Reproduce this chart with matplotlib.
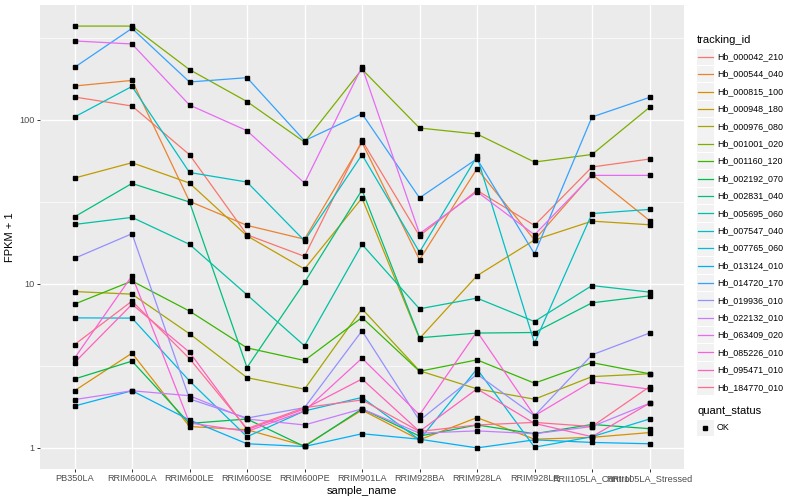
import numpy as np
import matplotlib
matplotlib.use('Agg')
import matplotlib.pyplot as plt
from matplotlib.patches import Rectangle
from matplotlib.lines import Line2D

plt.rcParams['font.family'] = ['Liberation Sans', 'DejaVu Sans']

# sample columns on the x axis
samples = ['PB350LA', 'RRIM600LA', 'RRIM600LE', 'RRIM600SE', 'RRIM600PE', 'RRIM901LA',
           'RRIM928BA', 'RRIM928LA', 'RRIM928LE', 'RRII105LA_Control', 'RRII105LA_Stressed']

# FPKM + 1 per gene
hb_000042_210 = [137.5, 121.2, 61.2, 19.9, 14.7, 74.8, 19.6, 37.1, 22.7, 51.5, 57.6]
hb_000544_040 = [160.5, 173.6, 31.8, 22.7, 18.7, 72.7, 14.0, 50.3, 18.5, 46.4, 24.3]
hb_000815_100 = [2.23, 3.78, 1.35, 1.29, 1.03, 1.70, 1.12, 1.53, 1.13, 1.16, 1.24]
hb_000948_180 = [44.1, 54.7, 41.1, 19.6, 12.3, 33.3, 4.64, 11.2, 18.5, 24.1, 22.9]
hb_000976_080 = [8.97, 8.65, 4.96, 2.68, 2.28, 7.04, 2.95, 2.29, 1.98, 2.72, 2.83]
hb_001001_020 = [372, 372, 202, 129, 73.1, 203, 89.0, 81.8, 55.2, 61.4, 118.9]
hb_001160_120 = [7.52, 10.4, 6.82, 4.07, 3.41, 6.23, 2.93, 3.44, 2.48, 3.31, 2.83]
hb_002192_070 = [2.63, 3.38, 1.41, 1.50, 1.02, 1.73, 1.18, 1.38, 1.22, 1.39, 1.31]
hb_002831_040 = [25.6, 40.9, 31.5, 3.09, 10.2, 37.3, 4.69, 5.01, 5.05, 7.66, 8.45]
hb_005695_060 = [23.0, 25.4, 17.4, 8.57, 4.19, 17.4, 7.04, 8.18, 5.89, 9.76, 8.90]
hb_007547_040 = [103.9, 159.6, 47.7, 41.7, 18.3, 61.2, 15.6, 59.7, 4.35, 26.8, 28.4]
hb_007765_060 = [6.20, 6.18, 2.56, 1.17, 1.68, 2.03, 1.12, 3.03, 1.01, 1.17, 1.50]
hb_013124_010 = [1.80, 2.23, 1.48, 1.06, 1.02, 1.22, 1.13, 1.00, 1.12, 1.08, 1.06]
hb_014720_170 = [208.4, 360.3, 169.8, 180.4, 74.5, 108.8, 33.4, 57.8, 15.2, 103.9, 136.8]
hb_019936_010 = [14.3, 20.2, 1.99, 1.52, 1.76, 5.17, 1.47, 2.81, 1.57, 3.69, 5.01]
hb_022132_010 = [1.97, 2.23, 2.08, 1.50, 1.38, 1.73, 1.23, 1.27, 1.22, 1.35, 1.87]
hb_063409_020 = [302, 289.4, 122.9, 85.7, 41.1, 210, 20.2, 36.4, 19.9, 45.8, 45.8]
hb_085226_010 = [3.52, 11.2, 1.42, 1.26, 1.68, 3.52, 1.59, 5.12, 1.57, 2.54, 2.28]
hb_095471_010 = [3.31, 7.50, 3.83, 1.29, 1.73, 2.63, 1.26, 2.29, 1.41, 1.17, 1.87]
hb_184770_010 = [4.26, 7.85, 3.50, 1.31, 1.76, 1.96, 1.26, 1.38, 1.43, 1.35, 2.36]

tracking_ids = ['Hb_000042_210', 'Hb_000544_040', 'Hb_000815_100', 'Hb_000948_180',
                'Hb_000976_080', 'Hb_001001_020', 'Hb_001160_120', 'Hb_002192_070',
                'Hb_002831_040', 'Hb_005695_060', 'Hb_007547_040', 'Hb_007765_060',
                'Hb_013124_010', 'Hb_014720_170', 'Hb_019936_010', 'Hb_022132_010',
                'Hb_063409_020', 'Hb_085226_010', 'Hb_095471_010', 'Hb_184770_010']
series = [hb_000042_210, hb_000544_040, hb_000815_100, hb_000948_180, hb_000976_080,
          hb_001001_020, hb_001160_120, hb_002192_070, hb_002831_040, hb_005695_060,
          hb_007547_040, hb_007765_060, hb_013124_010, hb_014720_170, hb_019936_010,
          hb_022132_010, hb_063409_020, hb_085226_010, hb_095471_010, hb_184770_010]

# ggplot default hue palette for 20 levels
colors = ['#F8766D', '#EA8331', '#D89000', '#C09B00', '#A3A500', '#7CAE00', '#39B600',
          '#00BB4E', '#00BF7D', '#00C1A3', '#00BFC4', '#00BAE0', '#00B0F6', '#35A2FF',
          '#9590FF', '#C77CFF', '#E76BF3', '#FA62DB', '#FF62BC', '#FF6C91']

W, H = 800, 500
fig = plt.figure(figsize=(8, 5), dpi=100)
ax = fig.add_axes([40 / W, 1 - 469 / H, 644 / W, 464 / H])
ax.set_facecolor('#EBEBEB')
for s in ax.spines.values():
    s.set_visible(False)

x = np.arange(len(samples))
for vals, c in zip(series, colors):
    ax.plot(x, vals, color=c, lw=0.9, zorder=3, solid_capstyle='butt')
for vals in series:
    ax.plot(x, vals, ls='none', marker='s', ms=2.6, color='black', zorder=4)

ax.set_yscale('log')
allv = np.log10(np.concatenate([np.array(v) for v in series]))
lo, hi = allv.min(), allv.max()
pad = 0.05 * (hi - lo)
ax.set_ylim(10 ** (lo - pad), 10 ** (hi + pad))
ax.set_xlim(-0.6, len(samples) - 0.4)

ax.set_yticks([1, 10, 100])
ax.set_yticklabels(['1', '10', '100'])
ax.set_yticks([10 ** 0.5, 10 ** 1.5, 10 ** 2.5], minor=True)
ax.set_yticklabels([], minor=True)
ax.set_xticks(x)
ax.set_xticklabels(samples)

ax.grid(True, which='major', color='white', lw=1.0, zorder=1)
ax.grid(True, which='minor', axis='y', color='white', lw=0.5, zorder=1)
ax.set_axisbelow(True)
ax.tick_params(which='major', length=2.2, width=0.7, color='#333333',
               labelsize=6.6, labelcolor='#4D4D4D', pad=1.5)
ax.tick_params(which='minor', length=0)

ax.set_xlabel('sample_name', fontsize=8, labelpad=2)
ax.set_ylabel('FPKM + 1', fontsize=8, labelpad=3)


def fx(px):
    return px / W


def fy(py):
    return 1 - py / H


# legend: tracking_id
fig.text(fx(697), fy(40), 'tracking_id', fontsize=8, va='center', ha='left')
for i, (name, c) in enumerate(zip(tracking_ids, colors)):
    yc = 56.7 + 17.4 * i
    fig.patches.append(Rectangle((fx(697), fy(yc + 8.2)), 16.6 / W, 16.4 / H,
                                 transform=fig.transFigure, facecolor='#F2F2F2',
                                 edgecolor='none'))
    fig.lines.append(Line2D([fx(698), fx(713)], [fy(yc), fy(yc)], color=c, lw=0.9,
                            transform=fig.transFigure))
    fig.text(fx(717), fy(yc), name, fontsize=6.4, va='center', ha='left')

# legend: quant_status
fig.text(fx(697), fy(411), 'quant_status', fontsize=8, va='center', ha='left')
fig.patches.append(Rectangle((fx(697), fy(428 + 8.2)), 16.6 / W, 16.4 / H,
                             transform=fig.transFigure, facecolor='#F2F2F2',
                             edgecolor='none'))
fig.lines.append(Line2D([fx(705.3)], [fy(428)], marker='s', ms=2.6, color='black',
                        transform=fig.transFigure))
fig.text(fx(717), fy(428), 'OK', fontsize=6.4, va='center', ha='left')

fig.savefig('out.png', dpi=100)
